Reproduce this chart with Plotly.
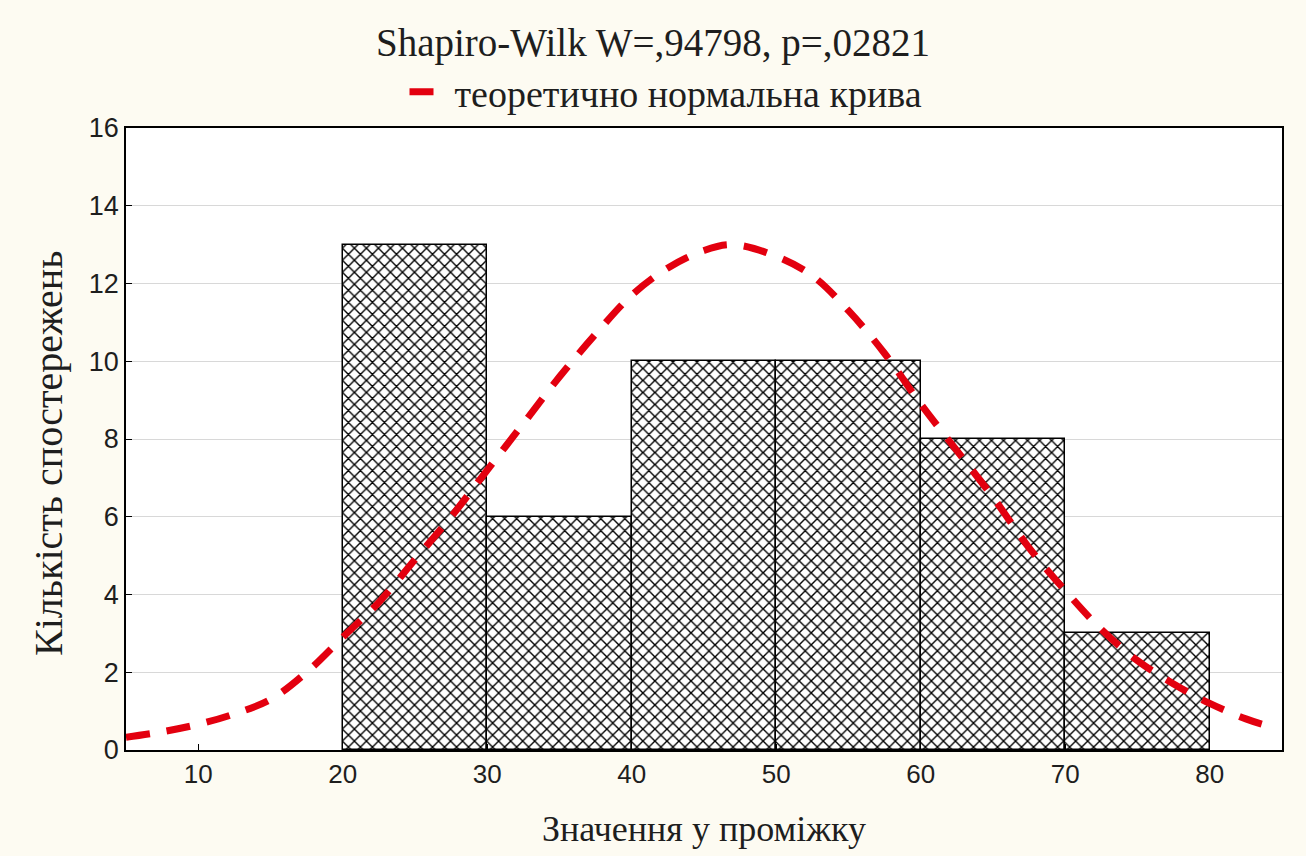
import plotly.graph_objects as go

# Histogram data
bin_centers = [25, 35, 45, 55, 65, 75]
counts = [13, 6, 10, 10, 8, 3]
bin_width = 10

# Theoretical normal curve
curve_x = [5, 7.5, 10, 12.5, 15, 17.5, 20, 22.5, 25, 27.5, 30, 32.5, 35, 37.5, 40, 42.5, 45, 47, 50, 52.5, 55, 57.5, 60, 62.5, 65, 67.5, 70, 72.5, 75, 77.5, 80, 82.5, 84]
curve_y = [0.33, 0.47, 0.66, 0.93, 1.3, 2.0, 2.9, 3.8, 4.9, 6.0, 7.2, 8.4, 9.6, 10.7, 11.7, 12.4, 12.85, 13.0, 12.7, 12.2, 11.3, 10.2, 8.9, 7.7, 6.5, 5.2, 4.1, 3.1, 2.3, 1.7, 1.2, 0.8, 0.62]

x_ticks = [10, 20, 30, 40, 50, 60, 70, 80]
y_ticks = [0, 2, 4, 6, 8, 10, 12, 14, 16]

title_text = "Shapiro-Wilk W=,94798, p=,02821"
legend_text = "теоретично нормальна крива"
x_title = "Значення у проміжку"
y_title = "Кількість спостережень"

serif = "Liberation Serif, Times New Roman, serif"
sans = "Liberation Sans, Arial, sans-serif"
txt = "#1e1e1e"

W, H = 1306, 856
L, R, T, B = 126, 24, 128, 106
PW, PH = W - L - R, H - T - B

fig = go.Figure()
fig.add_trace(go.Bar(
    x=bin_centers, y=counts, width=[bin_width] * len(counts),
    marker=dict(color="white",
                line=dict(color="black", width=1.5),
                pattern=dict(shape="x", fgcolor="black", bgcolor="white",
                             size=8.5, solidity=0.3, fillmode="replace")),
    showlegend=False, hoverinfo="skip",
))
fig.add_trace(go.Scatter(
    x=curve_x, y=curve_y, mode="lines", name=legend_text,
    line=dict(color="#e3000f", width=7, dash="24px,17px", shape="spline"),
))

fig.update_layout(
    width=W, height=H,
    paper_bgcolor="#fdfbf2", plot_bgcolor="white",
    margin=dict(l=L, r=R, t=T, b=B),
    bargap=0,
    title=dict(text=title_text, x=0.5, xanchor="center", y=1 - 42 / H, yanchor="middle",
               font=dict(family=serif, size=39, color=txt)),
    legend=dict(orientation="h", x=0.5 - 38 / PW, xanchor="center", y=1.0 + (T - 92) / PH, yanchor="middle",
                font=dict(family=serif, size=38, color=txt), bgcolor="rgba(0,0,0,0)",
                itemwidth=40),
    font=dict(family=sans, color=txt),
    annotations=[dict(text=y_title, textangle=-90, xref="paper", yref="paper",
                      x=(48 - L) / PW, y=1 - (454 - T) / PH, xanchor="center", yanchor="middle",
                      showarrow=False, font=dict(family=serif, size=40, color=txt))],
)
fig.update_xaxes(
    range=[5, 85], tickvals=x_ticks, ticks="inside", ticklen=6, tickcolor="black",
    showline=True, mirror=True, linecolor="black", linewidth=1.5,
    showgrid=False, zeroline=False,
    tickfont=dict(family=sans, size=26, color=txt),
    title=dict(text=x_title, font=dict(family=serif, size=36, color=txt), standoff=28),
)
fig.update_yaxes(
    range=[0, 16], tickvals=y_ticks, ticks="inside", ticklen=6, tickcolor="black",
    showline=True, mirror=True, linecolor="black", linewidth=1.5,
    showgrid=True, gridcolor="#d8d8d8", gridwidth=1, zeroline=False,
    tickfont=dict(family=sans, size=27, color=txt),
)

fig.write_html("out.html")
